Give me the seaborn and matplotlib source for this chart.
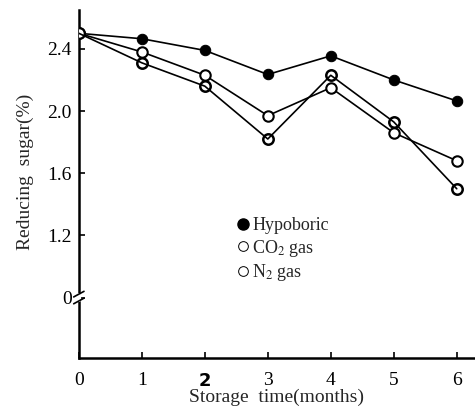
import matplotlib
matplotlib.use("Agg")
import matplotlib.pyplot as plt
import seaborn as sns
from matplotlib.lines import Line2D

months = [0, 1, 2, 3, 4, 5, 6]
hypoboric = [2.50, 2.465, 2.39, 2.235, 2.355, 2.20, 2.065]
co2_gas = [2.50, 2.38, 2.23, 1.97, 2.15, 1.86, 1.68]
n2_gas = [2.50, 2.31, 2.16, 1.82, 2.23, 1.93, 1.50]
ytick_vals = [0.8, 1.2, 1.6, 2.0, 2.4]
ytick_labels = ["0", "1.2", "1.6", "2.0", "2.4"]
xtick_labels = ["0", "1", "2", "3", "4", "5", "6"]

sns.set_theme(style="ticks")
plt.rcParams["font.family"] = ["Liberation Serif", "DejaVu Serif"]
plt.rcParams["mathtext.fontset"] = "stix"

fig = plt.figure(figsize=(4.75, 4.16), dpi=100)
ax = fig.add_axes([0.166, 0.139, 0.834, 0.837])

lw = 1.2
sns.lineplot(x=months, y=hypoboric, ax=ax, color="black", lw=lw, marker="o",
             markersize=7.5, markerfacecolor="black", markeredgecolor="black",
             zorder=3)
sns.lineplot(x=months, y=co2_gas, ax=ax, color="black", lw=lw, marker="o",
             markersize=7.5, markerfacecolor="white", markeredgecolor="black",
             markeredgewidth=1.5, zorder=3)
sns.lineplot(x=months, y=n2_gas, ax=ax, color="black", lw=0, marker="o",
             markersize=7.5, markerfacecolor="white", markeredgecolor="black",
             markeredgewidth=1.8, zorder=2)
sns.lineplot(x=months, y=n2_gas, ax=ax, color="black", lw=lw, zorder=4)

ax.set_xlim(0, 6.29)
ax.set_ylim(0.41, 2.65)
ax.set_xticks(months)
ax.set_xticklabels(xtick_labels)
ax.set_yticks(ytick_vals)
ax.set_yticklabels(ytick_labels)
ax.tick_params(axis="both", direction="in", length=4, width=1.2,
               labelsize=14, colors="black", pad=5)
ax.tick_params(axis="x", pad=10)
lab2 = ax.get_xticklabels()[2]
lab2.set_fontweight("bold")
lab2.set_family("DejaVu Sans")
lab2.set_fontsize(13)
for s in ["top", "right"]:
    ax.spines[s].set_visible(False)
for s in ["left", "bottom"]:
    ax.spines[s].set_linewidth(1.8)
    ax.spines[s].set_color("black")
ax.set_facecolor("white")

ax.set_xlabel("Storage  time(months)", fontsize=14, labelpad=-1)
ax.set_ylabel("Reducing  sugar(%)", fontsize=14)
ax.yaxis.set_label_coords(-0.112, 0.535)

# axis break marks at "0"
t = ax.get_yaxis_transform()
ax.plot([0, 0], [0.785, 0.815], transform=t, color="white", lw=3, clip_on=False, zorder=4)
for dy in (-0.022, 0.022):
    ax.plot([-0.013, 0.013], [0.8 + dy - 0.018, 0.8 + dy + 0.018], transform=t,
            color="black", lw=1.2, clip_on=False, zorder=5)

handles = [
    Line2D([], [], ls="none", marker="o", markersize=8, markerfacecolor="black", markeredgecolor="black"),
    Line2D([], [], ls="none", marker="o", markersize=7, markerfacecolor="white", markeredgecolor="black", markeredgewidth=0.7),
    Line2D([], [], ls="none", marker="o", markersize=7, markerfacecolor="white", markeredgecolor="black", markeredgewidth=0.7),
]
labels = ["Hypoboric", "CO$_2$ gas", "N$_2$ gas"]
ax.legend(handles, labels, loc="upper left", bbox_to_anchor=(0.378, 0.43),
          frameon=False, fontsize=13, handlelength=0.6, handletextpad=0.2,
          labelspacing=0.18, borderpad=0)

fig.savefig("out.png", dpi=100, facecolor="white")
